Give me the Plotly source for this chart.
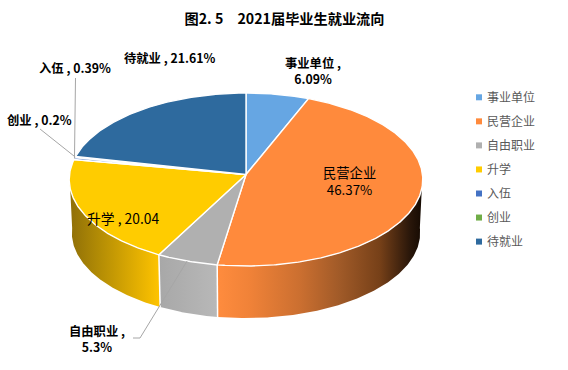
import math
import plotly.graph_objects as go

categories = ["事业单位", "民营企业", "自由职业", "升学", "入伍", "创业", "待就业"]
values = [6.09, 46.37, 5.3, 20.04, 0.39, 0.2, 21.61]
top_colors = ["#66A6E3", "#FF8A3C", "#B0B0B0", "#FFCC00", "#4472C4", "#70AD47", "#2E6A9E"]
title_text = "图2. 5　2021届毕业生就业流向"

FONT = "Noto Sans CJK SC, Microsoft YaHei, sans-serif"
CX, CY, R, C, K = 246.0, 174.5, 176.5, 86.2, 0.0578
BS, BY = 0.985, 53.5


def project(angle_deg, bottom=False):
    t = math.radians(angle_deg)
    u, v = math.sin(t), math.cos(t)
    d = 1 + K * v
    if bottom:
        return CX + BS * R * u / d, CY + BY - BS * C * v / d
    return CX + R * u / d, CY - C * v / d


def arc(a0, a1, bottom=False):
    n = max(2, int(abs(a1 - a0) * 2))
    pts = [project(a0 + (a1 - a0) * i / n, bottom) for i in range(n + 1)]
    return [p[0] for p in pts], [p[1] for p in pts]


cum = [0.0]
for val in values:
    cum.append(cum[-1] + val)
total = cum[-1]
edge = [c / total * 360 for c in cum]
mid = [(edge[i] + edge[i + 1]) / 2 for i in range(len(values))]

fig = go.Figure()

wall_gradients = {
    1: ([[0.0, "#FF8C3E"], [0.16, "#F08238"], [0.405, "#CB6F30"], [0.6, "#A05A28"],
         [0.795, "#764018"], [0.94, "#2A170A"], [1.0, "#150A02"]], 217, 422),
    2: ([[0.0, "#A8A8A8"], [1.0, "#B8B8B8"]], 160, 217),
    3: ([[0.0, "#8F6F08"], [0.3, "#B08A05"], [1.0, "#FFC400"]], 70, 160),
}
for i, (scale, x0, x1) in wall_gradients.items():
    a0, a1 = max(edge[i], 90), min(edge[i + 1], 270)
    tx, ty = arc(a0, a1)
    bx, by = arc(a1, a0, bottom=True)
    fig.add_trace(go.Scatter(
        x=tx + bx, y=ty + by, mode="lines", fill="toself",
        line=dict(width=0, color="rgba(0,0,0,0)"),
        fillgradient=dict(type="horizontal", colorscale=scale, start=x0, stop=x1),
        hoverinfo="skip", showlegend=False))

for i in (2, 3):
    p, q = project(edge[i]), project(edge[i], bottom=True)
    fig.add_trace(go.Scatter(x=[p[0], q[0]], y=[p[1], q[1]], mode="lines",
                             line=dict(color="white", width=1.5),
                             hoverinfo="skip", showlegend=False))

for i, name in enumerate(categories):
    ax, ay = arc(edge[i], edge[i + 1])
    fig.add_trace(go.Scatter(
        x=[CX] + ax + [CX], y=[CY] + ay + [CY], mode="lines", fill="toself",
        fillcolor=top_colors[i], line=dict(color="white", width=1.4),
        name=name, text=f"{name}: {values[i]}", hoverinfo="text", showlegend=False))

leaders = [
    (2, [(133, 338), (140, 338)]),
    (4, [(75.5, 78)]),
    (5, [(40, 129)]),
]
for i, way in leaders:
    a = project(mid[i])
    xs = [w[0] for w in way] + [a[0]]
    ys = [w[1] for w in way] + [a[1]]
    fig.add_trace(go.Scatter(x=xs, y=ys, mode="lines", line=dict(color="#A6A6A6", width=1),
                             hoverinfo="skip", showlegend=False))

legend_y = [97.3 + 24.05 * i for i in range(len(categories))]
fig.add_trace(go.Scatter(
    x=[479] * len(categories), y=legend_y,
    mode="markers", marker=dict(symbol="square", size=6, color=top_colors),
    hoverinfo="skip", showlegend=False, cliponaxis=False))
fig.add_trace(go.Scatter(
    x=[487] * len(categories), y=[v + 1.5 for v in legend_y],
    mode="text", text=categories, textposition="middle right",
    textfont=dict(family=FONT, size=12, color="#595959"),
    hoverinfo="skip", showlegend=False, cliponaxis=False))

labels = [
    (0, f"<b>{categories[0]} ,</b><br><b>{values[0]}%</b>", 313, 71, 12.3),
    (1, f"{categories[1]}<br>{values[1]}%", 349, 181, 13.3),
    (2, f"<b>{categories[2]} ,</b><br><b>{values[2]}%</b>", 97, 339, 12.3),
    (3, f"{categories[3]} , {values[3]:.2f}", 123, 218, 13.8),
    (4, f"<b>{categories[4]} , {values[4]}%</b>", 74.5, 68, 12.3),
    (5, f"<b>{categories[5]} , {values[5]}%</b>", 39.5, 120, 12.3),
    (6, f"<b>{categories[6]} , {values[6]}%</b>", 169, 58, 12.3),
]
for _, text, x, y, size in labels:
    fig.add_annotation(x=x, y=y, xref="x", yref="y", text=text, showarrow=False,
                       font=dict(family=FONT, size=size, color="black"),
                       align="center", xanchor="center", yanchor="middle")

fig.update_layout(
    width=568, height=370, autosize=False,
    margin=dict(l=0, r=0, t=0, b=0),
    paper_bgcolor="white", plot_bgcolor="white",
    showlegend=False,
    title=dict(text=f"<b>{title_text}</b>", x=284.5 / 568, xanchor="center",
               y=1 - 19.5 / 370, yanchor="middle",
               font=dict(family=FONT, size=14.2, color="black")),
    xaxis=dict(range=[0, 568], visible=False, fixedrange=True),
    yaxis=dict(range=[370, 0], visible=False, fixedrange=True),
)
fig.write_html("out.html", config=dict(displayModeBar=False),
               post_script="document.body.style.margin='0';document.documentElement.style.overflow='hidden';")
